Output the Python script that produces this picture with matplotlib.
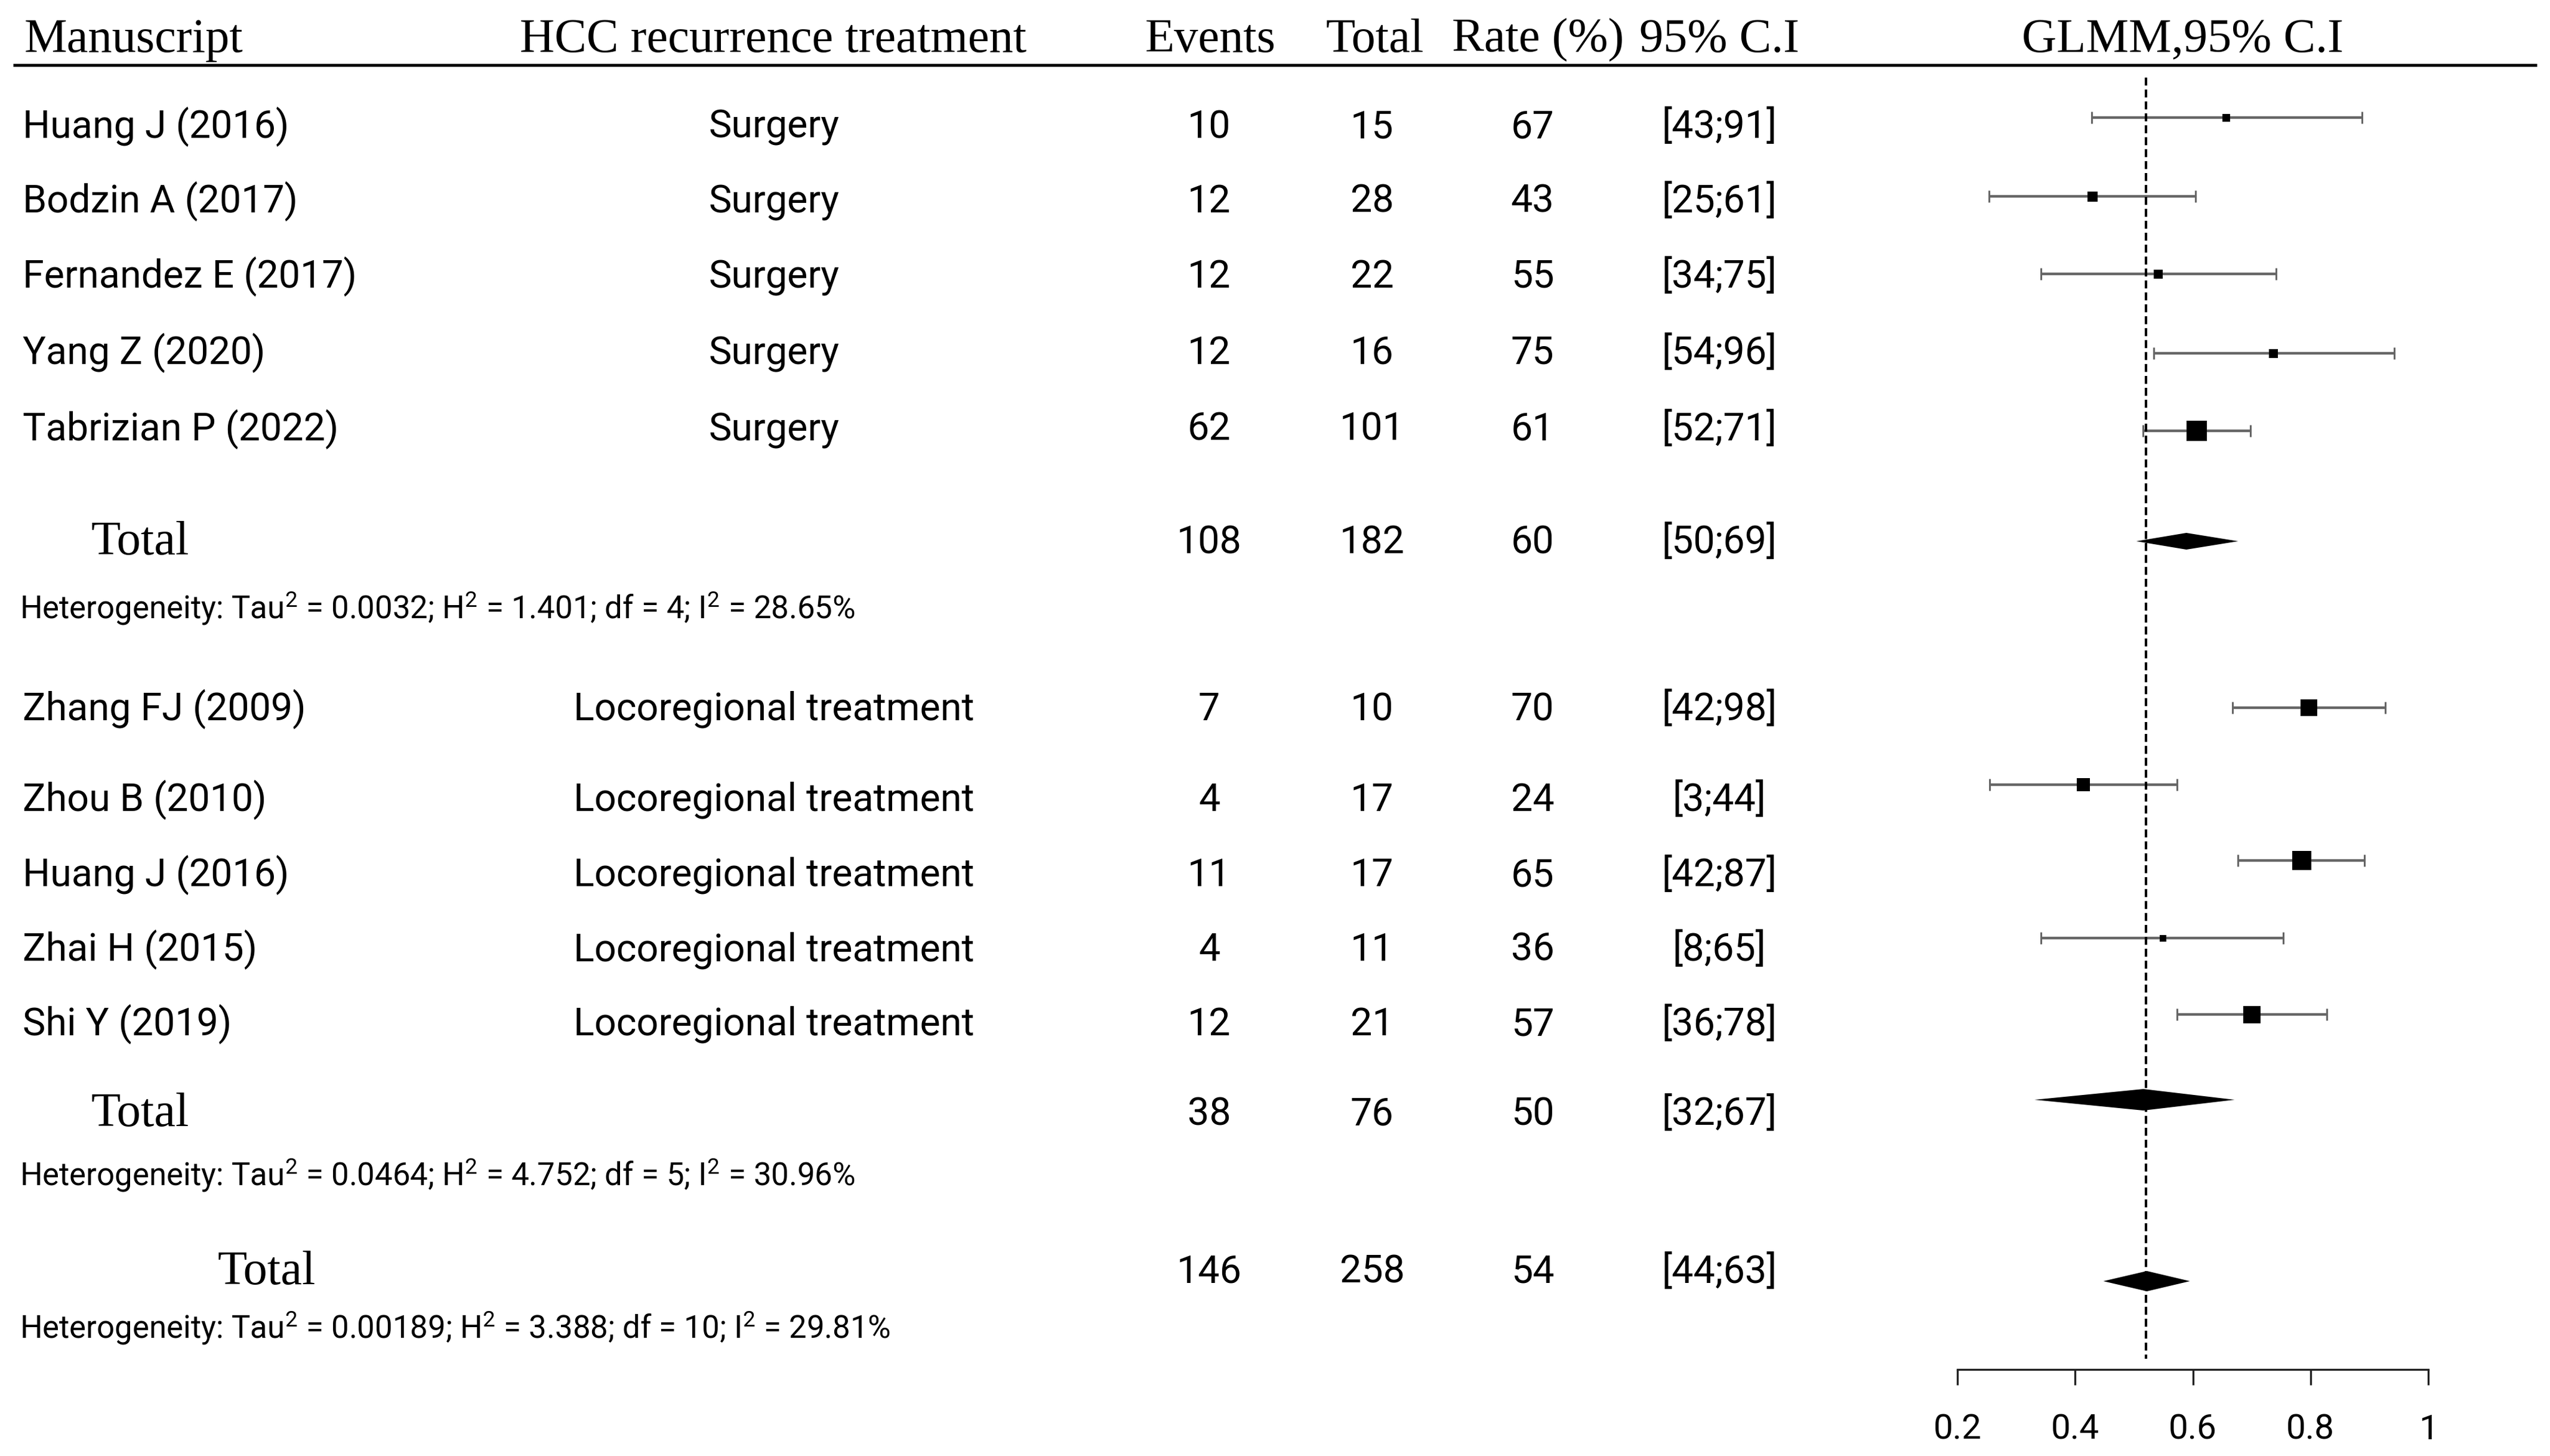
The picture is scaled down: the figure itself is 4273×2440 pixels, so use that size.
import matplotlib
matplotlib.use("Agg")
import matplotlib.pyplot as plt
import numpy as np

# table values
studies = ["Huang J (2016)", "Bodzin A (2017)", "Fernandez E (2017)", "Yang Z (2020)", "Tabrizian P (2022)",
           "Zhang FJ (2009)", "Zhou B (2010)", "Huang J (2016)", "Zhai H (2015)", "Shi Y (2019)"]
treatment = ["Surgery"] * 5 + ["Locoregional treatment"] * 5
events = [10, 12, 12, 12, 62, 7, 4, 11, 4, 12]
totals = [15, 28, 22, 16, 101, 10, 17, 17, 11, 21]
rates = [67, 43, 55, 75, 61, 70, 24, 65, 36, 57]
ci_text = ["[43;91]", "[25;61]", "[34;75]", "[54;96]", "[52;71]",
           "[42;98]", "[3;44]", "[42;87]", "[8;65]", "[36;78]"]

pooled_events = [108, 38, 146]
pooled_totals = [182, 76, 258]
pooled_rates = [60, 50, 54]
pooled_ci = ["[50;69]", "[32;67]", "[44;63]"]
heterogeneity = [
    "Heterogeneity: Tau$^2$ = 0.0032; H$^2$ = 1.401; df = 4; I$^2$ = 28.65%",
    "Heterogeneity: Tau$^2$ = 0.0464; H$^2$ = 4.752; df = 5; I$^2$ = 30.96%",
    "Heterogeneity: Tau$^2$ = 0.00189; H$^2$ = 3.388; df = 10; I$^2$ = 29.81%",
]

# plotted estimates (as drawn in the forest panel)
est = [0.657, 0.430, 0.541, 0.737, 0.607, 0.797, 0.414, 0.785, 0.549, 0.700]
lo = [0.428, 0.254, 0.342, 0.534, 0.515, 0.667, 0.255, 0.677, 0.342, 0.573]
hi = [0.887, 0.605, 0.741, 0.942, 0.698, 0.927, 0.573, 0.892, 0.754, 0.828]
pool_est = [0.589, 0.516, 0.522]
pool_lo = [0.504, 0.331, 0.448]
pool_hi = [0.677, 0.671, 0.595]
ref_line = 0.52
xticks = [0.2, 0.4, 0.6, 0.8, 1.0]
xticklabels = ["0.2", "0.4", "0.6", "0.8", "1"]

# layout (pixels from top)
W, H = 4273, 2440
row_base = [231, 356, 482, 610, 738, 1207, 1359, 1485, 1610, 1735]
mark_y = [197, 329, 459, 592, 722, 1186, 1315, 1442, 1572, 1700]
pool_base = [929, 1887, 2152]
pool_label_x = [153, 153, 365]
pool_y = [907, 1843, 2147]
pool_half = [14, 18, 17]
het_base = [1037, 1987, 2243]
box_px = [13, 17, 15, 15, 34, 28, 22, 32, 11, 29]

sans = ["Roboto", "DejaVu Sans"]
serif = ["Liberation Serif", "DejaVu Serif"]
plt.rcParams["mathtext.fontset"] = "custom"
plt.rcParams["mathtext.rm"] = "Roboto"
plt.rcParams["mathtext.it"] = "Roboto"

fig = plt.figure(figsize=(W / 100, H / 100), dpi=100)
ax = fig.add_axes([0, 0, 1, 1])
ax.set_xlim(0, W)
ax.set_ylim(H, 0)
ax.axis("off")

px = 72 / 100  # points per pixel
body = 46.5
hsize = 58

# header
hy = 87
ax.text(41, hy, "Manuscript", family=serif, fontsize=hsize, va="baseline")
ax.text(1296, hy, "HCC recurrence treatment", family=serif, fontsize=hsize, ha="center", va="baseline")
ax.text(2028, hy, "Events", family=serif, fontsize=hsize, ha="center", va="baseline")
ax.text(2304, hy, "Total", family=serif, fontsize=hsize, ha="center", va="baseline")
ax.text(2433, hy, "Rate (%)", family=serif, fontsize=hsize, ha="left", va="baseline")
ax.text(2747, hy, "95% C.I", family=serif, fontsize=hsize, ha="left", va="baseline")
ax.text(3658, hy, "GLMM,95% C.I", family=serif, fontsize=hsize, ha="center", va="baseline")
ax.plot([22, 4251], [109, 109], color="black", lw=5 * px, solid_capstyle="butt")

cols = [2026, 2299, 2568, 2881]
for i in range(len(studies)):
    yb = row_base[i]
    ax.text(38, yb, studies[i], family=sans, fontsize=body, va="baseline")
    ax.text(1297, yb, treatment[i], family=sans, fontsize=body, ha="center", va="baseline")
    for xc, s in zip(cols, [events[i], totals[i], rates[i], ci_text[i]]):
        ax.text(xc, yb, str(s), family=sans, fontsize=body, ha="center", va="baseline")

for k in range(3):
    yb = pool_base[k]
    ax.text(pool_label_x[k], yb, "Total", family=serif, fontsize=hsize, va="baseline")
    for xc, s in zip(cols, [pooled_events[k], pooled_totals[k], pooled_rates[k], pooled_ci[k]]):
        ax.text(xc, yb - 2, str(s), family=sans, fontsize=body, ha="center", va="baseline")
    ax.text(33, het_base[k], heterogeneity[k], family=sans, fontsize=38, va="baseline")

# forest panel
x0, x1 = 3280, 4069
axis_y = 2295
fax = fig.add_axes([x0 / W, (H - axis_y) / H, (x1 - x0) / W, axis_y / H])
fax.set_xlim(0.2, 1.0)
fax.set_ylim(axis_y, 0)
fax.patch.set_alpha(0)
for side in ["top", "right", "left"]:
    fax.spines[side].set_visible(False)
fax.spines["bottom"].set_linewidth(2.4)
fax.spines["bottom"].set_color("#222222")
fax.set_yticks([])
fax.set_xticks(xticks)
fax.set_xticklabels(xticklabels, family=sans, fontsize=42)
fax.tick_params(axis="x", direction="out", length=19, width=2.4, color="#222222", pad=34)

est = np.array(est)
lo = np.array(lo)
hi = np.array(hi)
fax.errorbar(est, mark_y, xerr=[est - lo, hi - est], fmt="none", ecolor="#666666",
             elinewidth=3.2, capsize=7.5, capthick=2.2)
fax.scatter(est, mark_y, s=(np.array(box_px) * px) ** 2, marker="s", color="black", zorder=5, linewidths=0)

for k in range(3):
    h = pool_half[k]
    fax.fill([pool_lo[k], pool_est[k], pool_hi[k], pool_est[k]],
             [pool_y[k], pool_y[k] - h, pool_y[k], pool_y[k] + h], color="black", lw=0, zorder=4)

fax.vlines(ref_line, 130, 2277, colors="black", linestyles=(0, (3.2, 1.6)), lw=3.0, zorder=3)

fig.savefig("out.png", dpi=100)
